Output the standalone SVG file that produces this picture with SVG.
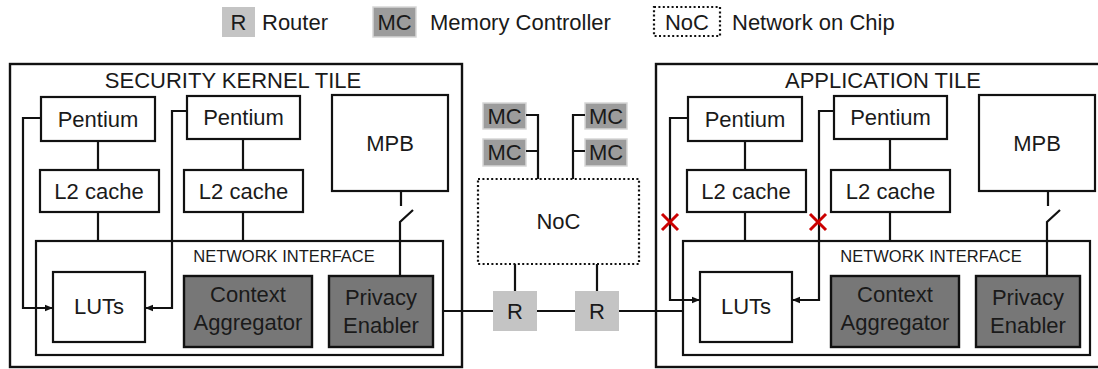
<svg xmlns="http://www.w3.org/2000/svg" width="1098" height="369" viewBox="0 0 1098 369">
<defs>
<style>
text{font-family:"Liberation Sans",Arial,sans-serif;font-size:22px;fill:#1a1a1a}
.m{text-anchor:middle}
.box{fill:#fff;stroke:#111;stroke-width:2.2}
.tile{fill:#fff;stroke:#111;stroke-width:2.4}
.dark{fill:#777;stroke:#111;stroke-width:2.4}
.r{fill:#c4c4c4}
.mc{fill:#9c9c9c;stroke:#d6d6d6;stroke-width:1.5}
.noc{fill:#fff;stroke:#111;stroke-width:2.2;stroke-dasharray:2 2.4}
.ln{fill:none;stroke:#111;stroke-width:2.2}
.x{fill:none;stroke:#cc0000;stroke-width:3}
.ni{font-size:16.5px}
</style>
<marker id="ah" viewBox="0 0 10 10" refX="10" refY="5" markerWidth="8" markerHeight="8" markerUnits="userSpaceOnUse" orient="auto">
<path d="M0,1 L10,5 L0,9 Z" fill="#111"/>
</marker>
</defs>

<g id="legend">
<rect class="r" x="222" y="7" width="33" height="30"/>
<text class="m" x="238.5" y="30">R</text>
<text x="262" y="30">Router</text>
<rect class="mc" x="373" y="7" width="43" height="30"/>
<text class="m" x="394.5" y="30">MC</text>
<text x="430" y="30">Memory Controller</text>
<rect class="noc" x="654" y="7" width="66" height="29"/>
<text class="m" x="687" y="30">NoC</text>
<text x="732" y="30">Network on Chip</text>
</g>

<!-- Left tile -->
<g id="sk-tile">
<rect class="tile" x="10" y="64" width="452" height="303"/>
<text class="m" x="233" y="88">SECURITY KERNEL TILE</text>
</g>
<g id="sk-pentium1"><rect class="box" x="41" y="97" width="114" height="44"/><text class="m" x="98" y="127">Pentium</text></g>
<g id="sk-pentium2"><rect class="box" x="187" y="96" width="113" height="43"/><text class="m" x="243.5" y="125">Pentium</text></g>
<g id="sk-mpb"><rect class="box" x="332" y="95" width="116" height="96"/><text class="m" x="390" y="151">MPB</text></g>
<g id="sk-l2a"><rect class="box" x="40" y="170" width="119" height="42"/><text class="m" x="99" y="199">L2 cache</text></g>
<g id="sk-l2b"><rect class="box" x="184" y="170" width="119" height="42"/><text class="m" x="243.5" y="199">L2 cache</text></g>
<g id="sk-ni"><rect class="box" x="36" y="241" width="407" height="114"/><text class="m ni" x="284" y="262">NETWORK INTERFACE</text></g>
<g id="sk-luts"><rect class="box" x="53" y="272" width="92" height="70"/><text class="m" x="99" y="314">LUTs</text></g>
<g id="sk-ctx"><rect class="dark" x="184" y="276" width="128" height="71"/><text class="m" x="248" y="302">Context</text><text class="m" x="248" y="330">Aggregator</text></g>
<g id="sk-pe"><rect class="dark" x="329" y="276" width="104" height="71"/><text class="m" x="381" y="305">Privacy</text><text class="m" x="381" y="333">Enabler</text></g>

<!-- Right tile -->
<g id="app-tile">
<rect class="tile" x="656" y="64" width="452" height="303"/>
<text class="m" x="883" y="88">APPLICATION TILE</text>
</g>
<g id="app-pentium1"><rect class="box" x="688" y="97" width="114" height="44"/><text class="m" x="745" y="127">Pentium</text></g>
<g id="app-pentium2"><rect class="box" x="834" y="96" width="113" height="43"/><text class="m" x="890.5" y="125">Pentium</text></g>
<g id="app-mpb"><rect class="box" x="979" y="95" width="116" height="96"/><text class="m" x="1037" y="151">MPB</text></g>
<g id="app-l2a"><rect class="box" x="687" y="170" width="119" height="42"/><text class="m" x="746" y="199">L2 cache</text></g>
<g id="app-l2b"><rect class="box" x="831" y="170" width="119" height="42"/><text class="m" x="890.5" y="199">L2 cache</text></g>
<g id="app-ni"><rect class="box" x="683" y="241" width="407" height="114"/><text class="m ni" x="931" y="262">NETWORK INTERFACE</text></g>
<g id="app-luts"><rect class="box" x="700" y="272" width="92" height="70"/><text class="m" x="746" y="314">LUTs</text></g>
<g id="app-ctx"><rect class="dark" x="831" y="276" width="128" height="71"/><text class="m" x="895" y="302">Context</text><text class="m" x="895" y="330">Aggregator</text></g>
<g id="app-pe"><rect class="dark" x="976" y="276" width="104" height="71"/><text class="m" x="1028" y="305">Privacy</text><text class="m" x="1028" y="333">Enabler</text></g>

<!-- Middle -->
<g id="noc"><rect class="noc" x="478" y="179" width="161" height="85"/><text class="m" x="558.5" y="229">NoC</text></g>
<g id="mc1"><rect class="mc" x="483" y="103" width="43" height="26"/><text class="m" x="504.5" y="124">MC</text></g>
<g id="mc2"><rect class="mc" x="483" y="139" width="43" height="27"/><text class="m" x="504.5" y="160">MC</text></g>
<g id="mc3"><rect class="mc" x="585" y="103" width="42" height="26"/><text class="m" x="606" y="124">MC</text></g>
<g id="mc4"><rect class="mc" x="585" y="139" width="42" height="27"/><text class="m" x="606" y="160">MC</text></g>
<g id="router1"><rect class="r" x="493" y="291" width="44" height="40"/><text class="m" x="515" y="319">R</text></g>
<g id="router2"><rect class="r" x="575" y="291" width="44" height="40"/><text class="m" x="597" y="319">R</text></g>

<g id="connectors">
<!-- left tile -->
<path class="ln" d="M98,141 V170 M98,212 V241 M243,139 V170 M243,212 V241"/>
<path class="ln" d="M41,118 H23 V308 H53" marker-end="url(#ah)"/>
<path class="ln" d="M187,111 H172 V308 H145" marker-end="url(#ah)"/>
<path class="ln" d="M401,191 V206 M413,210 L400,222 V276"/>
<!-- right tile -->
<path class="ln" d="M745,141 V170 M745,212 V241 M890,139 V170 M890,212 V241"/>
<path class="ln" d="M688,118 H670 V300 H700" marker-end="url(#ah)"/>
<path class="ln" d="M834,111 H819 V300 H792" marker-end="url(#ah)"/>
<path class="ln" d="M1048,191 V206 M1060,210 L1047,222 V276"/>
<!-- NoC / routers -->
<path class="ln" d="M443,311 H493 M537,311 H575 M619,311 H683"/>
<path class="ln" d="M515,264 V291 M597,264 V291"/>
<path class="ln" d="M526,115 H538 V179 M526,151 H538 M585,115 H573 V179 M585,151 H573"/>
</g>

<g id="blocked">
<path class="x" d="M662,214 L678,230 M678,214 L662,230"/>
<path class="x" d="M810,214 L826,230 M826,214 L810,230"/>
</g>
</svg>
